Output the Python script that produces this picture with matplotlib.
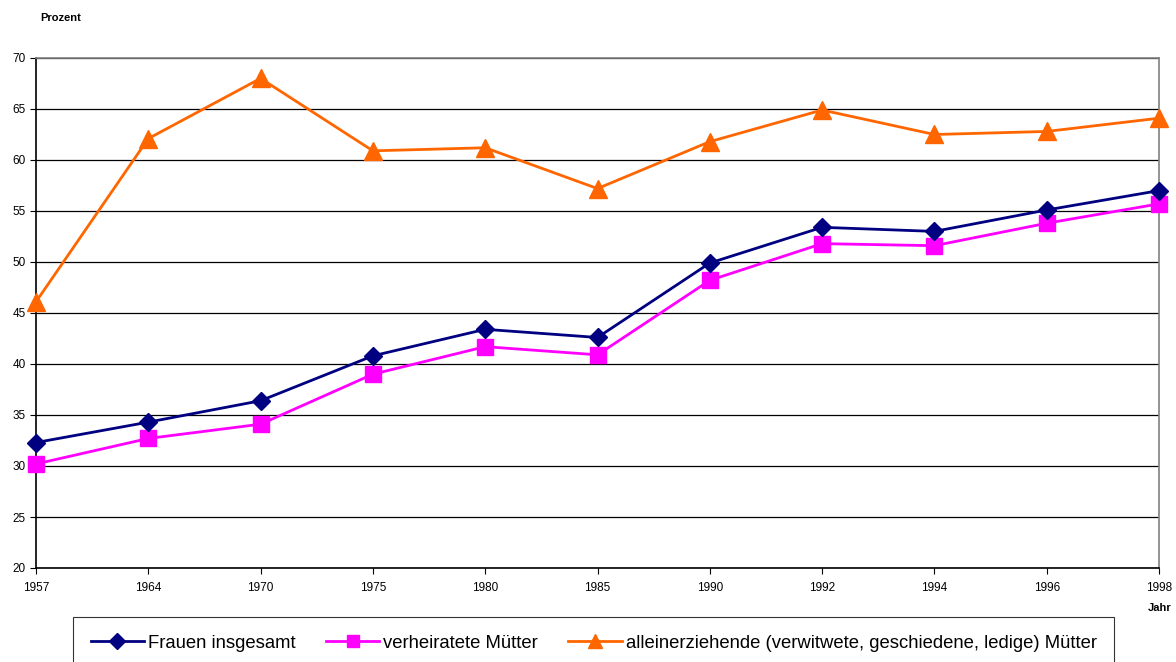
import matplotlib
matplotlib.use('Agg')
import matplotlib.pyplot as plt

plt.rcParams['font.family'] = ['Liberation Sans', 'DejaVu Sans']

years = ['1957', '1964', '1970', '1975', '1980', '1985', '1990', '1992', '1994', '1996', '1998']
frauen = [32.3, 34.3, 36.4, 40.8, 43.4, 42.6, 49.9, 53.4, 53.0, 55.1, 57.0]
verheiratet = [30.2, 32.7, 34.1, 39.0, 41.7, 40.9, 48.2, 51.8, 51.6, 53.8, 55.7]
alleinerz = [46.1, 62.1, 68.0, 60.9, 61.2, 57.2, 61.8, 64.9, 62.5, 62.8, 64.1]

labels = ['Frauen insgesamt', 'verheiratete Mütter',
          'alleinerziehende (verwitwete, geschiedene, ledige) Mütter']

fig = plt.figure(figsize=(11.76, 6.62), dpi=100)
ax = fig.add_axes([36/1176, 1 - 568/662, (1159-36)/1176, (568-58)/662])

x = list(range(len(years)))
ax.plot(x, frauen, color='#000080', lw=2, marker='D', ms=9.5, label=labels[0], clip_on=False, zorder=5)
ax.plot(x, verheiratet, color='#FF00FF', lw=2, marker='s', ms=11, label=labels[1], clip_on=False, zorder=4)
ax.plot(x, alleinerz, color='#FF6600', lw=2, marker='^', ms=12.5, label=labels[2], clip_on=False, zorder=3)

ax.set_xlim(0, len(years) - 1)
ax.set_ylim(20, 70)
ax.set_yticks(range(20, 71, 5))
ax.set_xticks(x)
ax.set_xticklabels(years)
ax.yaxis.grid(True, color='black', lw=0.9)
ax.set_axisbelow(True)
ax.tick_params(labelsize=8.5, length=4, color='black', direction='out')
ax.tick_params(axis='x', pad=6)

for s in ['left', 'bottom']:
    ax.spines[s].set_color('black')
    ax.spines[s].set_linewidth(1.2)
for s in ['top', 'right']:
    ax.spines[s].set_color('#808080')
    ax.spines[s].set_linewidth(1.2)

fig.text(40/1176, 1 - 18/662, 'Prozent', fontsize=8, fontweight='bold', va='center', ha='left')
fig.text(1172/1176, 1 - 608/662, 'Jahr', fontsize=8, fontweight='bold', va='center', ha='right')

leg = ax.legend(loc='upper left', bbox_to_anchor=(73/1176, 1 - 617/662), bbox_transform=fig.transFigure,
                ncol=3, frameon=True, fancybox=False, edgecolor='black', fontsize=13.3,
                handlelength=2.9, handletextpad=0.2, columnspacing=1.65, borderpad=0.95,
                borderaxespad=0, markerscale=0.85)
leg.get_frame().set_linewidth(0.8)

fig.savefig('out.png', dpi=100)
